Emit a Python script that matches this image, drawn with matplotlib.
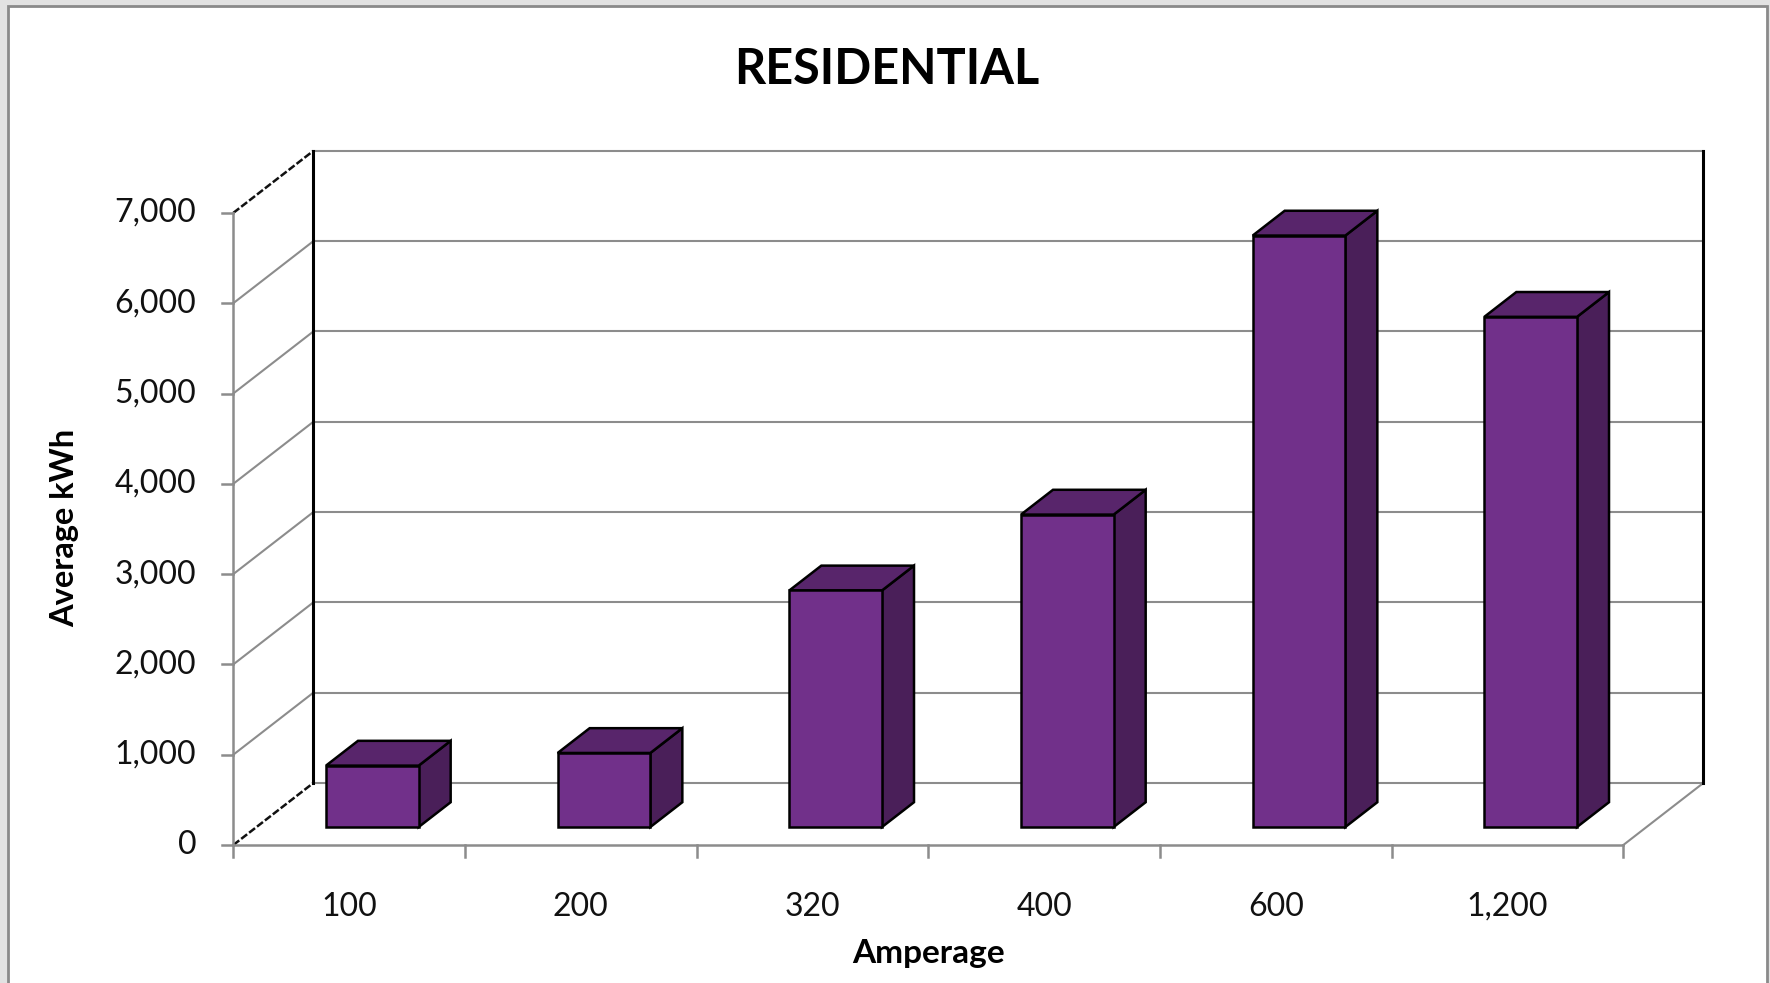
import numpy as np
import matplotlib.pyplot as plt
from matplotlib.patches import Polygon, Rectangle

plt.rcParams['font.family'] = ['Lato', 'DejaVu Sans']

# data
categories = ['100', '200', '320', '400', '600', '1,200']
avg_kwh = [680, 820, 2620, 3460, 6550, 5650]
y_ticks = [0, 1000, 2000, 3000, 4000, 5000, 6000, 7000]

W, H = 1770, 983
fig = plt.figure(figsize=(W / 100, H / 100), dpi=100, facecolor='#e2e2e2')

# white chart area with grey border (behind the axes)
fig.patches.append(Rectangle((8 / W, -0.02), (1767 - 8) / W, (H - 6) / H + 0.02,
                             transform=fig.transFigure, facecolor='white',
                             edgecolor='#8a8a8a', lw=2, zorder=-5))

ax = fig.add_axes([0, 0, 1, 1])
ax.set_axis_off()
ax.patch.set_alpha(0)

# front origin in pixels, size of one category and of one kWh
x0px, y0px = 233.3, 845
cat_px = 231.67
unit_px = 0.0903
ax.set_xlim(-x0px / cat_px, (W - x0px) / cat_px)
ax.set_ylim(-(H - y0px) / unit_px, y0px / unit_px)

# depth offset of the back wall (fake 3d)
DX = 80 / cat_px
DY = 62 / unit_px

n = len(categories)
ymax = y_ticks[-1]
grid = '#8c8c8c'

# back wall gridlines
for t in y_ticks:
    ax.plot([DX, n + DX], [t + DY, t + DY], color=grid, lw=1.5, zorder=1)

# side wall lines
for t in y_ticks:
    if t == 0 or t == ymax:
        ax.plot([0, DX], [t, t + DY], color='#111111', lw=1.8, ls=(0, (3, 1)), zorder=2)
    else:
        ax.plot([0, DX], [t, t + DY], color=grid, lw=1.5, zorder=1)

# back wall edges
ax.plot([DX, DX], [DY, ymax + DY], color='black', lw=2.2, zorder=2)
ax.plot([n + DX, n + DX], [DY, ymax + DY], color='black', lw=2.2, zorder=2)
ax.plot([n, n + DX], [0, DY], color=grid, lw=1.5, zorder=1)

# front axes
ax.plot([0, 0], [0, ymax], color=grid, lw=1.8, zorder=2)
ax.plot([0, n], [0, 0], color=grid, lw=1.8, zorder=2)

for t in y_ticks:
    ax.plot([-11 / cat_px, 0], [t, t], color=grid, lw=1.8, zorder=2)
    ax.text(-37 / cat_px, t, f'{t:,}', ha='right', va='center', fontsize=23, color='#111111')

for i in range(n + 1):
    ax.plot([i, i], [0, -12 / unit_px], color=grid, lw=1.8, zorder=2)

for i, c in enumerate(categories):
    ax.text(i + 0.5, -62 / unit_px, c, ha='center', va='center', fontsize=23, color='#111111')

# bars
z0, dz = 0.29, 0.40
bw = 0.4
for i, v in enumerate(avg_kwh):
    xl = i + 0.5 - bw / 2 + z0 * DX
    xr = xl + bw
    yb = z0 * DY
    yt = yb + v
    ox, oy = dz * DX, dz * DY
    front = [(xl, yb), (xr, yb), (xr, yt), (xl, yt)]
    side = [(xr, yb), (xr + ox, yb + oy), (xr + ox, yt + oy), (xr, yt)]
    top = [(xl, yt), (xr, yt), (xr + ox, yt + oy), (xl + ox, yt + oy)]
    ax.add_patch(Polygon(side, closed=True, facecolor='#4a1f59', edgecolor='black', lw=1.8, zorder=5))
    ax.add_patch(Polygon(top, closed=True, facecolor='#58256b', edgecolor='black', lw=1.8, zorder=5))
    ax.add_patch(Polygon(front, closed=True, facecolor='#71308a', edgecolor='black', lw=1.8, zorder=6))

fig.text(887 / W, 1 - 70 / H, 'RESIDENTIAL', ha='center', va='center',
         fontsize=35, fontweight='bold')
fig.text(928 / W, 1 - 954 / H, 'Amperage', ha='center', va='center',
         fontsize=24, fontweight='bold')
fig.text(65 / W, 1 - 528 / H, 'Average kWh', ha='center', va='center',
         fontsize=23.5, fontweight='bold', rotation=90)

fig.savefig('out.png', dpi=100, facecolor=fig.get_facecolor())
